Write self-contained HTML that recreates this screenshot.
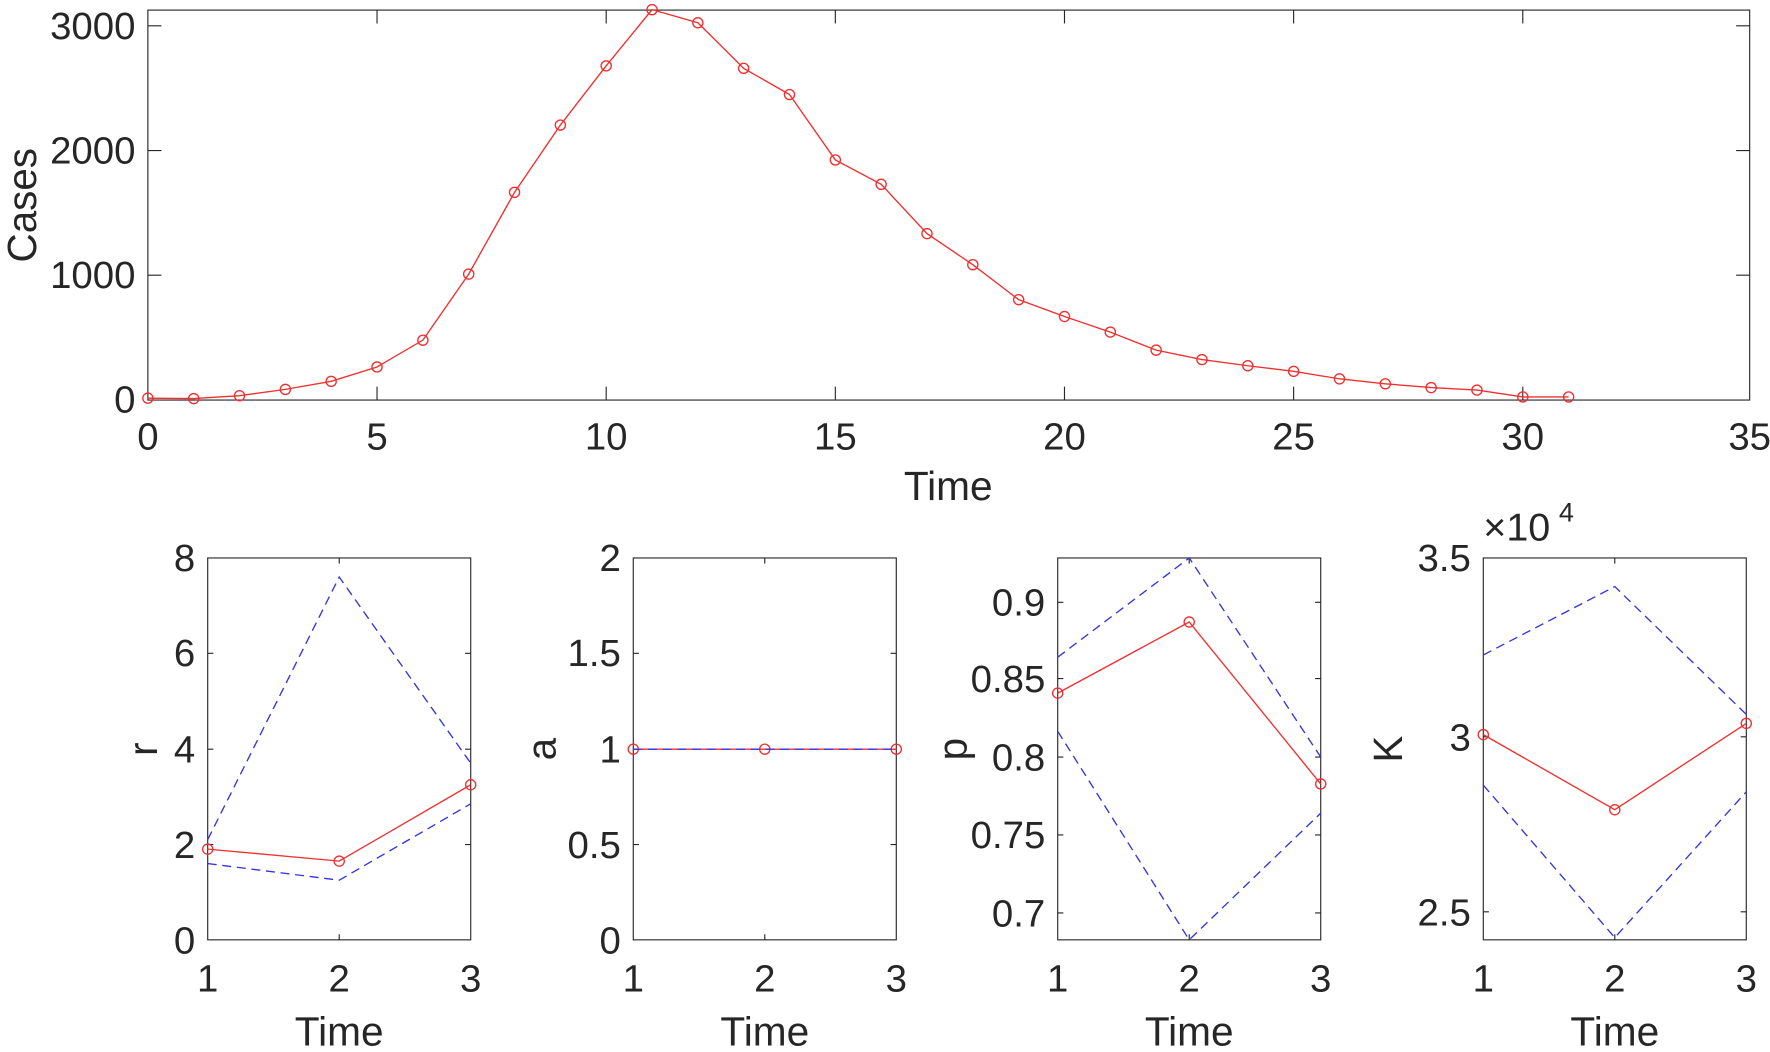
<!DOCTYPE html>
<html><head><meta charset="utf-8"><style>
html,body{margin:0;padding:0;background:#fff;}
svg{display:block;}
text{font-family:"Liberation Sans",Arial,sans-serif;fill:#262626;}
</style></head><body>
<svg width="1770" height="1052" viewBox="0 0 1568 938" preserveAspectRatio="none" xmlns="http://www.w3.org/2000/svg">
<rect width="1568" height="938" fill="#fff"/>
<!-- TOP PLOT -->
<g stroke="#262626" stroke-width="1" fill="none">
<rect x="131" y="9" width="1419" height="347.7"/>
<path d="M131,23h12M1550,23h-12M131,134.2h12M1550,134.2h-12M131,245.4h12M1550,245.4h-12
M334,356.7v-12M537,356.7v-12M740,356.7v-12M943,356.7v-12M1146,356.7v-12M1349,356.7v-12
M334,9v12M537,9v12M740,9v12M943,9v12M1146,9v12M1349,9v12"/>
</g>
<g font-size="34" text-anchor="end">
<text x="120" y="368">0</text><text x="120" y="257">1000</text><text x="120" y="146">2000</text><text x="120" y="35">3000</text>
</g>
<g font-size="34" text-anchor="middle">
<text x="131" y="401">0</text><text x="334" y="401">5</text><text x="537" y="401">10</text><text x="740" y="401">15</text><text x="943" y="401">20</text><text x="1146" y="401">25</text><text x="1349" y="401">30</text><text x="1550" y="401">35</text>
</g>
<text x="840" y="446" font-size="36" text-anchor="middle">Time</text>
<text transform="translate(32,183) rotate(-90)" font-size="36" text-anchor="middle">Cases</text>
<g stroke="#f03030" stroke-width="1.2" fill="none">
<polyline points="131,355.0 171.6,355.4 212.2,352.8 252.8,347.2 293.4,340.0 334,327.2 374.6,303.3 415.2,244.4 455.8,171.5 496.4,111.5 537,58.7 577.6,8.6 618.2,20.3 658.8,60.9 699.4,84.3 740,142.6 780.6,164.3 821.2,208.3 861.8,236.0 902.4,267.2 943,282.2 983.6,296.1 1024.2,312.2 1064.8,320.6 1105.4,326.1 1146,331.1 1186.6,337.8 1227.2,342.2 1267.8,345.6 1308.4,347.8 1349,353.9 1389.6,353.9"/>
<circle cx="131" cy="355.0" r="4.5"/><circle cx="171.6" cy="355.4" r="4.5"/><circle cx="212.2" cy="352.8" r="4.5"/><circle cx="252.8" cy="347.2" r="4.5"/><circle cx="293.4" cy="340.0" r="4.5"/><circle cx="334" cy="327.2" r="4.5"/><circle cx="374.6" cy="303.3" r="4.5"/><circle cx="415.2" cy="244.4" r="4.5"/><circle cx="455.8" cy="171.5" r="4.5"/><circle cx="496.4" cy="111.5" r="4.5"/><circle cx="537" cy="58.7" r="4.5"/><circle cx="577.6" cy="8.6" r="4.5"/><circle cx="618.2" cy="20.3" r="4.5"/><circle cx="658.8" cy="60.9" r="4.5"/><circle cx="699.4" cy="84.3" r="4.5"/><circle cx="740" cy="142.6" r="4.5"/><circle cx="780.6" cy="164.3" r="4.5"/><circle cx="821.2" cy="208.3" r="4.5"/><circle cx="861.8" cy="236.0" r="4.5"/><circle cx="902.4" cy="267.2" r="4.5"/><circle cx="943" cy="282.2" r="4.5"/><circle cx="983.6" cy="296.1" r="4.5"/><circle cx="1024.2" cy="312.2" r="4.5"/><circle cx="1064.8" cy="320.6" r="4.5"/><circle cx="1105.4" cy="326.1" r="4.5"/><circle cx="1146" cy="331.1" r="4.5"/><circle cx="1186.6" cy="337.8" r="4.5"/><circle cx="1227.2" cy="342.2" r="4.5"/><circle cx="1267.8" cy="345.6" r="4.5"/><circle cx="1308.4" cy="347.8" r="4.5"/><circle cx="1349" cy="353.9" r="4.5"/><circle cx="1389.6" cy="353.9" r="4.5"/>
</g>

<!-- BOTTOM PANELS -->
<g stroke="#262626" stroke-width="1" fill="none">
<rect x="184" y="497.5" width="233" height="340.5"/>
<rect x="561" y="497.5" width="233" height="340.5"/>
<rect x="937" y="497.5" width="233" height="340.5"/>
<rect x="1314" y="497.5" width="233" height="340.5"/>
<path d="M300.5,838v-5M300.5,497.5v5M677.5,838v-5M677.5,497.5v5M1053.5,838v-5M1053.5,497.5v5M1430.5,838v-5M1430.5,497.5v5
M184,753h5M417,753h-5M184,668h5M417,668h-5M184,582.5h5M417,582.5h-5
M561,753h5M794,753h-5M561,668h5M794,668h-5M561,582.5h5M794,582.5h-5
M937,537h5M1170,537h-5M937,605h5M1170,605h-5M937,675h5M1170,675h-5M937,744.5h5M1170,744.5h-5M937,814h5M1170,814h-5
M1314,657h5M1547,657h-5M1314,813h5M1547,813h-5"/>
</g>
<g font-size="34" text-anchor="end">
<text x="173" y="850">0</text><text x="173" y="765">2</text><text x="173" y="680">4</text><text x="173" y="594">6</text><text x="173" y="509">8</text>
<text x="550" y="850">0</text><text x="550" y="765">0.5</text><text x="550" y="680">1</text><text x="550" y="594">1.5</text><text x="550" y="509">2</text>
<text x="926" y="549">0.9</text><text x="926" y="617">0.85</text><text x="926" y="687">0.8</text><text x="926" y="756">0.75</text><text x="926" y="826">0.7</text>
<text x="1303" y="509">3.5</text><text x="1303" y="669">3</text><text x="1303" y="825">2.5</text>
</g>
<text x="1314" y="482" font-size="35">×10</text>
<text x="1381" y="465" font-size="24">4</text>
<g font-size="34" text-anchor="middle">
<text x="184" y="884">1</text><text x="300.5" y="884">2</text><text x="417" y="884">3</text>
<text x="561" y="884">1</text><text x="677.5" y="884">2</text><text x="794" y="884">3</text>
<text x="937" y="884">1</text><text x="1053.5" y="884">2</text><text x="1170" y="884">3</text>
<text x="1314" y="884">1</text><text x="1430.5" y="884">2</text><text x="1547" y="884">3</text>
</g>
<g font-size="36" text-anchor="middle">
<text x="300.5" y="932">Time</text><text x="677.5" y="932">Time</text><text x="1053.5" y="932">Time</text><text x="1430.5" y="932">Time</text>
</g>
<g font-size="36" text-anchor="middle">
<text transform="translate(139,668) rotate(-90)">r</text>
<text transform="translate(492,668) rotate(-90)">a</text>
<text transform="translate(856,668) rotate(-90)">p</text>
<text transform="translate(1242,668) rotate(-90)">K</text>
</g>
<!-- red -->
<g stroke="#f03030" stroke-width="1.2" fill="none">
<polyline points="184,757.1 300.5,767.8 417,699.7"/>
<polyline points="561,668 677.5,668 794,668"/>
<polyline points="937,618 1053.5,554.6 1170,699"/>
<polyline points="1314,655 1430.5,722 1547,645"/>
<circle cx="184" cy="757.1" r="4.5"/><circle cx="300.5" cy="767.8" r="4.5"/><circle cx="417" cy="699.7" r="4.5"/>
<circle cx="561" cy="668" r="4.5"/><circle cx="677.5" cy="668" r="4.5"/><circle cx="794" cy="668" r="4.5"/>
<circle cx="937" cy="618" r="4.5"/><circle cx="1053.5" cy="554.6" r="4.5"/><circle cx="1170" cy="699" r="4.5"/>
<circle cx="1314" cy="655" r="4.5"/><circle cx="1430.5" cy="722" r="4.5"/><circle cx="1547" cy="645" r="4.5"/>
</g>
<!-- blue dashed -->
<g stroke="#3535e0" stroke-width="1.2" fill="none" stroke-dasharray="8,5">
<polyline points="184,748.6 300.5,514.5 417,680.5"/>
<polyline points="184,770 300.5,784.8 417,716.7"/>
<polyline points="561,668 677.5,668 794,668"/>
<polyline points="937,586 1053.5,497.5 1170,675"/>
<polyline points="937,652 1053.5,838 1170,725"/>
<polyline points="1314,584 1430.5,523 1547,637"/>
<polyline points="1314,700 1430.5,836 1547,706"/>
</g>
</svg>
</body></html>
